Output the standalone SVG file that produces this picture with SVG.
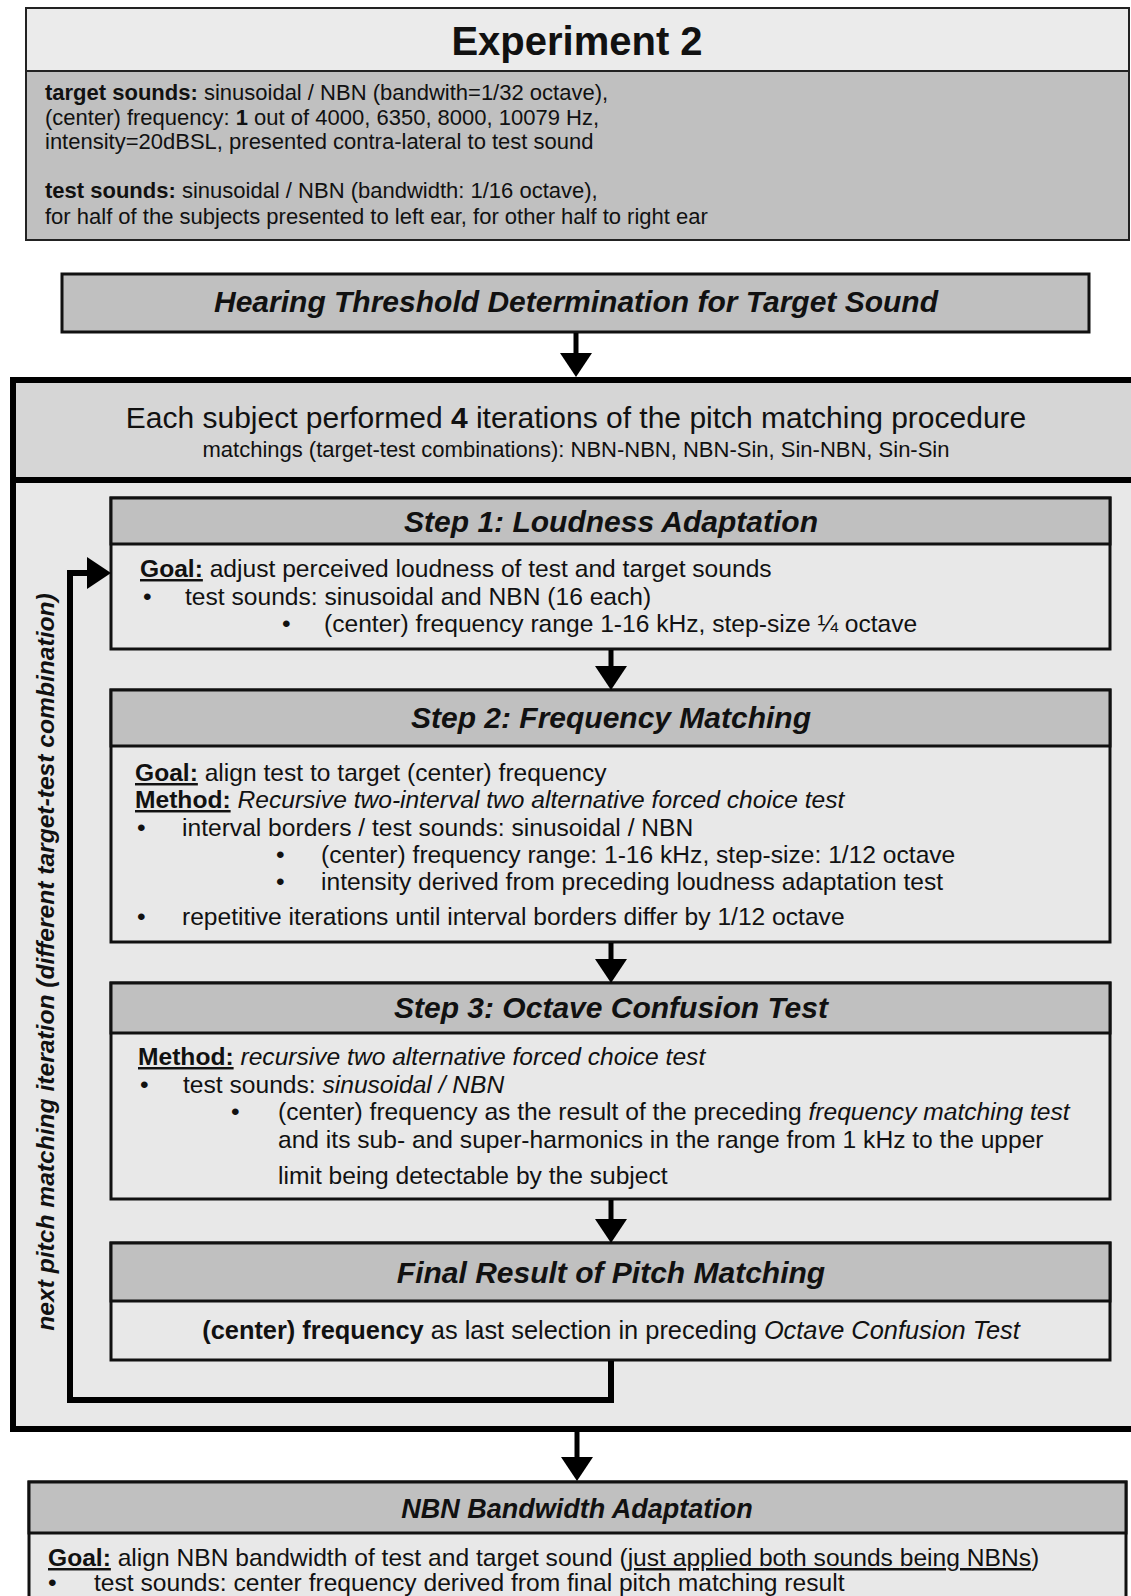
<svg xmlns="http://www.w3.org/2000/svg" width="1131" height="1596" viewBox="0 0 1131 1596">
<defs>
<style>
text{font-family:"Liberation Sans",Arial,sans-serif;fill:#111}
.t{font-size:30px;font-weight:bold;font-style:italic;text-anchor:middle}
.b{font-size:24.6px}
.s{font-size:22px}
.bo{font-weight:bold}
.it{font-style:italic}
.u{text-decoration:underline}
.box{stroke:#111;stroke-width:3}
.hd{fill:#c0c0c0}
.bd{fill:#e8e8e8}
.con{fill:none;stroke:#000;stroke-width:5}
</style>
<marker id="ah" viewBox="0 0 24 32" refX="4" refY="16" markerWidth="24" markerHeight="32" markerUnits="userSpaceOnUse" orient="auto"><path d="M0,0 L24,16 L0,32 Z" fill="#000"/></marker>
</defs>
<rect width="1131" height="1596" fill="#fff"/>

<g id="experiment2">
<rect x="26" y="8" width="1103" height="232" fill="#c0c0c0" stroke="#222" stroke-width="2"/>
<rect x="26" y="8" width="1103" height="63" fill="#ebebeb" stroke="#222" stroke-width="2"/>
<text x="577" y="55" font-size="40" font-weight="bold" text-anchor="middle">Experiment 2</text>
<text class="s" x="45" y="100"><tspan class="bo">target sounds:</tspan> sinusoidal / NBN (bandwith=1/32 octave),</text>
<text class="s" x="45" y="125">(center) frequency: <tspan class="bo">1</tspan> out of 4000, 6350, 8000, 10079 Hz,</text>
<text class="s" x="45" y="149">intensity=20dBSL, presented contra-lateral to test sound</text>
<text class="s" x="45" y="198"><tspan class="bo">test sounds:</tspan> sinusoidal / NBN (bandwidth: 1/16 octave),</text>
<text class="s" x="45" y="224">for half of the subjects presented to left ear, for other half to right ear</text>
</g>

<g id="hearing-threshold">
<rect x="62" y="274" width="1027" height="58" fill="#c0c0c0" stroke="#111" stroke-width="3"/>
<text class="t" x="576" y="312">Hearing Threshold Determination for Target Sound</text>
</g>

<g id="pitch-matching-procedure">
<rect x="13" y="380" width="1130" height="1049" fill="#e8e8e8" stroke="#000" stroke-width="6"/>
<rect x="13" y="380" width="1130" height="100" fill="#d6d6d6" stroke="#000" stroke-width="6"/>
<text x="576" y="428" font-size="30" text-anchor="middle">Each subject performed <tspan class="bo">4</tspan> iterations of the pitch matching procedure</text>
<text class="s" x="576" y="457" text-anchor="middle">matchings (target-test combinations): NBN-NBN, NBN-Sin, Sin-NBN, Sin-Sin</text>
</g>

<g id="step1">
<rect class="box bd" x="111" y="498" width="999" height="151"/>
<rect class="box hd" x="111" y="498" width="999" height="46"/>
<text class="t" x="611" y="532">Step 1: Loudness Adaptation</text>
<text class="b" x="140" y="577"><tspan class="bo u">Goal:</tspan> adjust perceived loudness of test and target sounds</text>
<text class="b" x="143" y="605">•</text><text class="b" x="185" y="605">test sounds: sinusoidal and NBN (16 each)</text>
<text class="b" x="282" y="632">•</text><text class="b" x="324" y="632">(center) frequency range 1-16 kHz, step-size ¼ octave</text>
</g>

<g id="step2">
<rect class="box bd" x="111" y="690" width="999" height="252"/>
<rect class="box hd" x="111" y="690" width="999" height="56"/>
<text class="t" x="611" y="728">Step 2: Frequency Matching</text>
<text class="b" x="135" y="781"><tspan class="bo u">Goal:</tspan> align test to target (center) frequency</text>
<text class="b" x="135" y="808"><tspan class="bo u">Method:</tspan> <tspan class="it">Recursive two-interval two alternative forced choice test</tspan></text>
<text class="b" x="137" y="836">•</text><text class="b" x="182" y="836">interval borders / test sounds: sinusoidal / NBN</text>
<text class="b" x="276" y="863">•</text><text class="b" x="321" y="863">(center) frequency range: 1-16 kHz, step-size: 1/12 octave</text>
<text class="b" x="276" y="890">•</text><text class="b" x="321" y="890">intensity derived from preceding loudness adaptation test</text>
<text class="b" x="137" y="925">•</text><text class="b" x="182" y="925">repetitive iterations until interval borders differ by 1/12 octave</text>
</g>

<g id="step3">
<rect class="box bd" x="111" y="983" width="999" height="216"/>
<rect class="box hd" x="111" y="983" width="999" height="50"/>
<text class="t" x="611" y="1018">Step 3: Octave Confusion Test</text>
<text class="b" x="138" y="1065"><tspan class="bo u">Method:</tspan> <tspan class="it">recursive two alternative forced choice test</tspan></text>
<text class="b" x="140" y="1093">•</text><text class="b" x="183" y="1093">test sounds: <tspan class="it">sinusoidal / NBN</tspan></text>
<text class="b" x="231" y="1120">•</text><text class="b" x="278" y="1120">(center) frequency as the result of the preceding <tspan class="it">frequency matching test</tspan></text>
<text class="b" x="278" y="1148">and its sub- and super-harmonics in the range from 1 kHz to the upper</text>
<text class="b" x="278" y="1184">limit being detectable by the subject</text>
</g>

<g id="final-result">
<rect class="box bd" x="111" y="1243" width="999" height="117"/>
<rect class="box hd" x="111" y="1243" width="999" height="58"/>
<text class="t" x="611" y="1283">Final Result of Pitch Matching</text>
<text x="611" y="1339" font-size="25.4" text-anchor="middle"><tspan class="bo">(center) frequency</tspan> as last selection in preceding <tspan class="it">Octave Confusion Test</tspan></text>
</g>

<g id="nbn-bandwidth">
<rect class="box bd" x="29" y="1482" width="1097" height="200"/>
<rect class="box hd" x="29" y="1482" width="1097" height="51"/>
<text class="t" x="577" y="1518" style="font-size:27px">NBN Bandwidth Adaptation</text>
<text class="b" x="48" y="1566"><tspan class="bo u">Goal:</tspan> align NBN bandwidth of test and target sound (<tspan class="u">just applied both sounds being NBNs</tspan>)</text>
<text class="b" x="48" y="1591">•</text><text class="b" x="94" y="1591">test sounds: center frequency derived from final pitch matching result</text>
</g>

<g id="connectors">
<path class="con" d="M576 333 V357" marker-end="url(#ah)"/>
<path class="con" d="M611 650 V670" marker-end="url(#ah)"/>
<path class="con" d="M611 943 V963" marker-end="url(#ah)"/>
<path class="con" d="M611 1200 V1223" marker-end="url(#ah)"/>
<path class="con" d="M577 1432 V1461" marker-end="url(#ah)"/>
<path class="con" style="stroke-width:6" d="M611 1361 V1400 H70 V573 H91" marker-end="url(#ah)"/>
<text transform="translate(54,962) rotate(-90)" font-size="24.6" font-weight="bold" font-style="italic" text-anchor="middle">next pitch matching iteration (different target-test combination)</text>
</g>
</svg>
